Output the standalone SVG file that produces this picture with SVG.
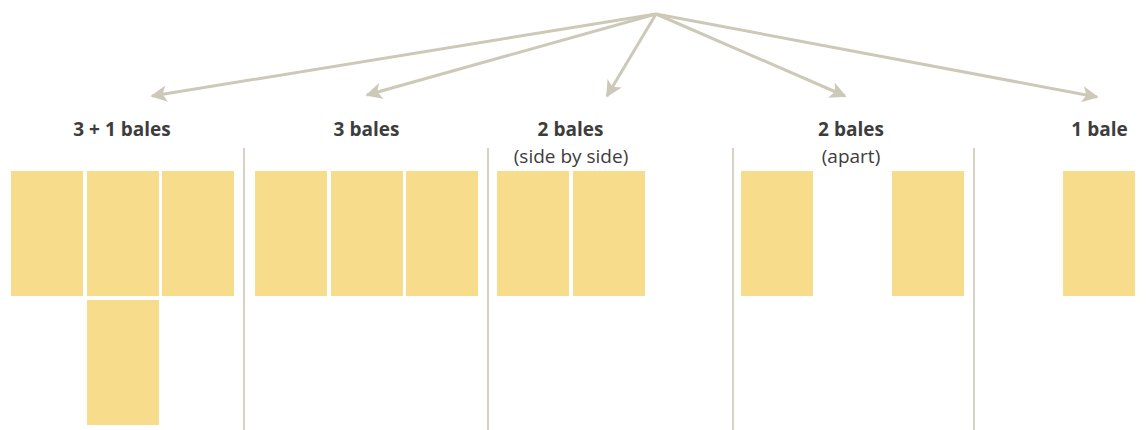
<svg xmlns="http://www.w3.org/2000/svg" width="1146" height="430" viewBox="0 0 1146 430">
<defs>
<marker id="ah" viewBox="0 0 10 10" refX="9" refY="5" markerWidth="5.5" markerHeight="5.5" orient="auto" markerUnits="strokeWidth">
<path d="M0,0 L10,5 L0,10 L2.5,5 Z" fill="#cdc9b8"/>
</marker>
</defs>
<style>
.bale{fill:#f7dc8b}
.div{stroke:#d6d2c4;stroke-width:2}
.arr{stroke:#cdc9b8;stroke-width:3;fill:none;marker-end:url(#ah)}
.t{font-family:"Open Sans","Noto Sans",sans-serif;font-size:19px;font-weight:bold;fill:#3d3d3d;text-anchor:middle}
.s{font-family:"Open Sans","Noto Sans",sans-serif;font-size:19px;fill:#3d3d3d;text-anchor:middle}
</style>
<rect width="1146" height="430" fill="#ffffff"/>
<g id="connectors">
<line class="arr" x1="656" y1="14" x2="152" y2="96"/>
<line class="arr" x1="656" y1="14" x2="367" y2="95"/>
<line class="arr" x1="656" y1="14" x2="607" y2="96"/>
<line class="arr" x1="656" y1="14" x2="845" y2="96"/>
<line class="arr" x1="656" y1="14" x2="1097" y2="97"/>
</g>
<g id="dividers">
<line class="div" x1="244" y1="148" x2="244" y2="430"/>
<line class="div" x1="488" y1="148" x2="488" y2="430"/>
<line class="div" x1="733" y1="148" x2="733" y2="430"/>
<line class="div" x1="974" y1="148" x2="974" y2="430"/>
</g>
<g id="n1">
<text class="t" x="122" y="136">3 + 1 bales</text>
<rect class="bale" x="11" y="171" width="72" height="125"/>
<rect class="bale" x="87" y="171" width="72" height="125"/>
<rect class="bale" x="162" y="171" width="72" height="125"/>
<rect class="bale" x="87" y="300" width="72" height="125"/>
</g>
<g id="n2">
<text class="t" x="366.5" y="136">3 bales</text>
<rect class="bale" x="255" y="171" width="72" height="125"/>
<rect class="bale" x="331" y="171" width="72" height="125"/>
<rect class="bale" x="406" y="171" width="72" height="125"/>
</g>
<g id="n3">
<text class="t" x="570.5" y="136">2 bales</text>
<text class="s" x="571" y="163">(side by side)</text>
<rect class="bale" x="497" y="171" width="72" height="125"/>
<rect class="bale" x="573" y="171" width="72" height="125"/>
</g>
<g id="n4">
<text class="t" x="851" y="136">2 bales</text>
<text class="s" x="851" y="163">(apart)</text>
<rect class="bale" x="741" y="171" width="72" height="125"/>
<rect class="bale" x="892" y="171" width="72" height="125"/>
</g>
<g id="n5">
<text class="t" x="1099.5" y="136">1 bale</text>
<rect class="bale" x="1063" y="171" width="72" height="125"/>
</g>
</svg>
